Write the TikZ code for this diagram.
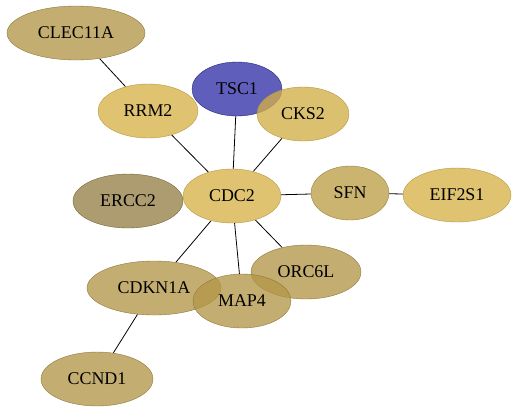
\documentclass[tikz,border=0pt]{standalone}
\usepackage{fontspec}
\setmainfont{Liberation Serif}
\usetikzlibrary{shapes.geometric, backgrounds}

\definecolor{gold}{RGB}{214,178,72}
\definecolor{tan}{RGB}{178,150,72}
\definecolor{olive}{RGB}{150,128,72}
\definecolor{violet}{RGB}{50,50,168}

\begin{document}
\begin{tikzpicture}[
  x=1bp, y=-1bp,
  gene/.style={ellipse, draw, inner sep=0pt, minimum height=54bp, fill opacity=0.78,
    text opacity=1, font=\fontsize{18}{18}\selectfont},
  edge/.style={draw=black, line width=0.8pt},
]
\useasboundingbox (0,0) rectangle (517,413);

\node[gene, minimum width=138bp, fill=tan,    draw=tan!80!black]   (CLEC11A) at (76,33)   {CLEC11A};
\node[gene, minimum width=90bp,  fill=violet, draw=violet!70!black] (TSC1)   at (237,89)  {TSC1};
\node[gene, minimum width=100bp, fill=gold,   draw=gold!85!black]  (RRM2)    at (148,111) {RRM2};
\node[gene, minimum width=92bp,  fill=gold!85!tan, draw=gold!85!black] (CKS2) at (303,114) {CKS2};
\node[gene, minimum width=110bp, fill=olive,  draw=olive!80!black] (ERCC2)   at (128,201) {ERCC2};
\node[gene, minimum width=98bp,  fill=gold,   draw=gold!85!black]  (CDC2)    at (232,196) {CDC2};
\node[gene, minimum width=78bp,  fill=tan!70!gold, draw=tan!85!black] (SFN)  at (350,193) {SFN};
\node[gene, minimum width=108bp, fill=gold,   draw=gold!85!black]  (EIF2S1)  at (457,195) {EIF2S1};
\node[gene, minimum width=134bp, fill=tan,    draw=tan!80!black]   (CDKN1A)  at (154,288) {CDKN1A};
\node[gene, minimum width=110bp, fill=tan,    draw=tan!80!black]   (ORC6L)   at (306,272) {ORC6L};
\node[gene, minimum width=98bp,  fill=tan,    draw=tan!80!black]   (MAP4)    at (242,301) {MAP4};
\node[gene, minimum width=112bp, fill=tan,    draw=tan!80!black]   (CCND1)   at (97,379)  {CCND1};

\begin{scope}[on background layer]
\draw[edge] (CLEC11A) -- (RRM2);
\draw[edge] (RRM2) -- (CDC2);
\draw[edge] (TSC1) -- (CDC2);
\draw[edge] (CKS2) -- (CDC2);
\draw[edge] (ERCC2) -- (CDC2);
\draw[edge] (SFN) -- (CDC2);
\draw[edge] (SFN) -- (EIF2S1);
\draw[edge] (CDC2) -- (CDKN1A);
\draw[edge] (CDC2) -- (MAP4);
\draw[edge] (CDC2) -- (ORC6L);
\draw[edge] (CDKN1A) -- (CCND1);
\end{scope}
\end{tikzpicture}
\end{document}
